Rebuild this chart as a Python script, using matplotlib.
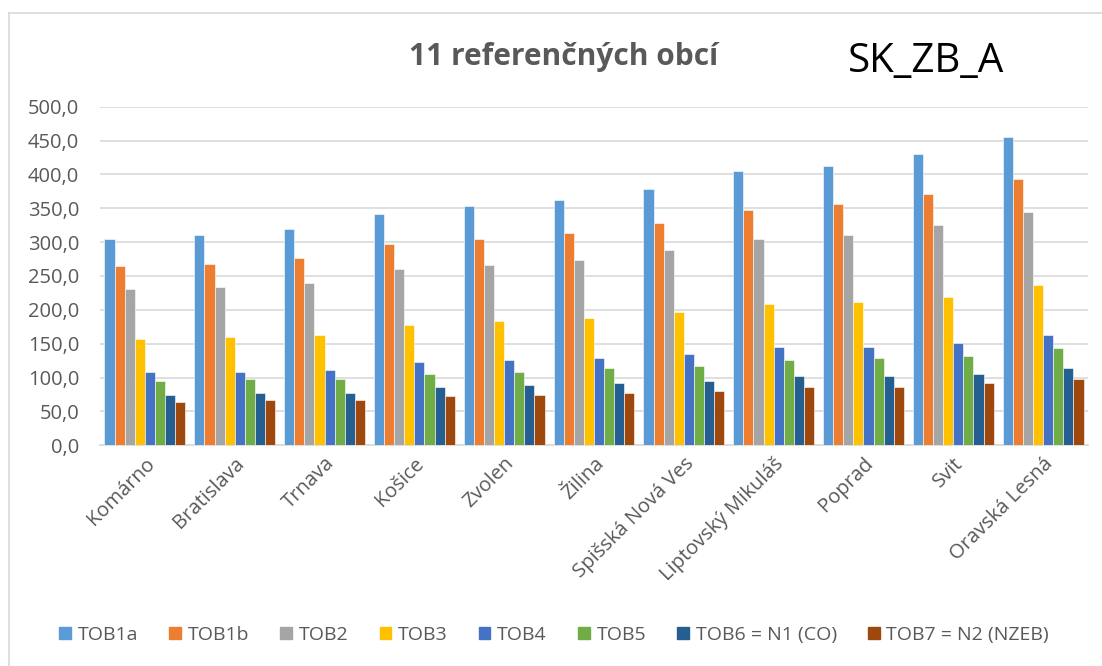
import matplotlib
matplotlib.use("Agg")
import matplotlib.pyplot as plt
import numpy as np
from matplotlib.lines import Line2D

plt.rcParams['font.family'] = ['Open Sans', 'DejaVu Sans']

categories = ["Komárno", "Bratislava", "Trnava", "Košice", "Zvolen", "Žilina",
              "Spišská Nová Ves", "Liptovský Mikuláš", "Poprad", "Svit", "Oravská Lesná"]
series_names = ["TOB1a", "TOB1b", "TOB2", "TOB3", "TOB4", "TOB5",
                "TOB6 = N1 (CO)", "TOB7 = N2 (NZEB)"]
TOB1a = [304.6, 310.5, 319.4, 342.0, 353.3, 361.7, 378.9, 404.5, 412.9, 430.1, 455.2]
TOB1b = [265.3, 268.2, 276.6, 296.8, 305.1, 313.5, 327.8, 347.4, 356.3, 370.6, 393.2]
TOB2 = [230.8, 233.8, 239.7, 259.8, 265.7, 274.1, 287.9, 304.6, 310.5, 324.8, 344.5]
TOB3 = [157.0, 160.0, 162.9, 177.2, 183.1, 188.5, 197.3, 208.2, 211.1, 219.5, 236.7]
TOB4 = [108.8, 108.8, 111.7, 123.0, 126.0, 128.9, 134.3, 145.7, 145.7, 151.6, 162.9]
TOB5 = [94.5, 97.4, 97.4, 105.8, 108.8, 114.7, 117.1, 126.0, 128.9, 131.4, 143.2]
TOB6 = [74.8, 77.8, 77.8, 86.1, 89.1, 92.0, 94.5, 102.9, 102.9, 105.8, 114.7]
TOB7 = [63.5, 66.4, 66.4, 72.3, 74.8, 77.8, 80.7, 86.1, 86.1, 92.0, 97.4]
series = [TOB1a, TOB1b, TOB2, TOB3, TOB4, TOB5, TOB6, TOB7]
colors = ["#5B9BD5", "#ED7D31", "#A5A5A5", "#FFC000", "#4472C4", "#70AD47", "#255E91", "#9E480E"]
yticks = [0, 50, 100, 150, 200, 250, 300, 350, 400, 450, 500]

W, H = 1102, 666
fig = plt.figure(figsize=(W / 100, H / 100), dpi=100)
ax = fig.add_axes([100 / W, 1 - 445.3 / H, (1088 - 100) / W, (445.3 - 106.7) / H])

n = len(series)
x = np.arange(len(categories))
group = 0.9
bw = group / n
for i, (vals, c) in enumerate(zip(series, colors)):
    ax.bar(x - group / 2 + bw * (i + 0.5), vals, width=bw, color=c,
           edgecolor='white', linewidth=0.4, label=series_names[i], zorder=3)

ax.set_xlim(-0.5, len(categories) - 0.5)
ax.set_ylim(0, 500)
ax.set_yticks(yticks)
ax.set_yticklabels([f"{v:.1f}".replace('.', ',') for v in yticks], fontsize=14.5, color='#595959')
ax.yaxis.grid(True, color='#d9d9d9', linewidth=1.2, zorder=0)
ax.set_axisbelow(True)
ax.tick_params(axis='y', length=0, pad=15)
ax.tick_params(axis='x', length=0, pad=6)
ax.set_xticks(x)
ax.set_xticklabels(categories, rotation=45, ha='right', rotation_mode='anchor',
                   fontsize=14.5, color='#595959')
for s in ['top', 'right', 'left']:
    ax.spines[s].set_visible(False)
ax.spines['bottom'].set_color('#d9d9d9')
ax.spines['bottom'].set_linewidth(1.2)

# chart border (left and top visible)
fig.add_artist(Line2D([8.5 / W, 8.5 / W], [0, 1 - 12.5 / H], color='#d9d9d9', lw=1.2))
fig.add_artist(Line2D([8.5 / W, 1], [1 - 12.5 / H, 1 - 12.5 / H], color='#d9d9d9', lw=1.2))

fig.text(564 / W, 1 - 57 / H, "11 referenčných obcí", ha='center', va='center',
         fontsize=21.5, fontweight='bold', color='#595959')
fig.text(926 / W, 1 - 62 / H, "SK_ZB_A", ha='center', va='center',
         fontsize=29, color='black')

handles = [plt.Rectangle((0, 0), 1, 1, color=c) for c in colors]
fig.legend(handles, series_names, loc='center', bbox_to_anchor=(554 / W, 1 - 635 / H),
           ncol=8, frameon=False, fontsize=14, handlelength=0.6, handleheight=0.6,
           handletextpad=0.35, columnspacing=1.6, labelcolor='#595959')

fig.savefig("out.png", dpi=100)
